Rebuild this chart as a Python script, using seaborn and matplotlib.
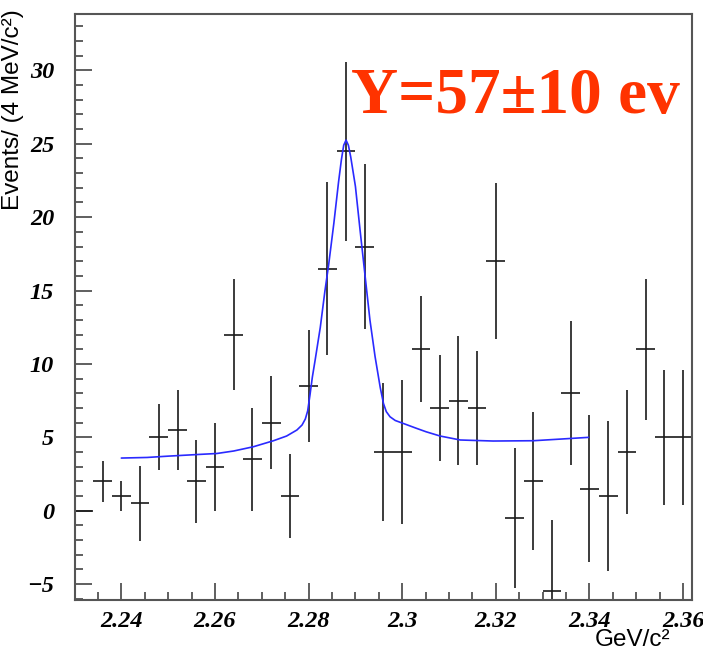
import numpy as np
import pandas as pd
import matplotlib
matplotlib.use("Agg")
import matplotlib.pyplot as plt
from matplotlib.ticker import MultipleLocator, FixedLocator
import seaborn as sns

# ---- data ----
bin_centers = [2.232, 2.236, 2.240, 2.244, 2.248, 2.252, 2.256, 2.260, 2.264, 2.268,
               2.272, 2.276, 2.280, 2.284, 2.288, 2.292, 2.296, 2.300, 2.304, 2.308,
               2.312, 2.316, 2.320, 2.324, 2.328, 2.332, 2.336, 2.340, 2.344, 2.348,
               2.352, 2.356, 2.360]
counts = [0.0, 2.0, 1.0, 0.5, 5.0, 5.5, 2.0, 3.0, 12.0, 3.5,
          6.0, 1.0, 8.5, 16.5, 24.5, 18.0, 4.0, 4.0, 11.0, 7.0,
          7.5, 7.0, 17.0, -0.5, 2.0, -5.5, 8.0, 1.5, 1.0, 4.0,
          11.0, 5.0, 5.0]
errors = [0.0, 1.41, 1.0, 2.55, 2.25, 2.72, 2.85, 3.0, 3.8, 3.5,
          3.15, 2.84, 3.8, 5.9, 6.1, 5.6, 4.7, 4.9, 3.6, 3.6,
          4.4, 3.9, 5.3, 4.75, 4.7, 4.9, 4.9, 5.0, 5.1, 4.25,
          4.8, 4.6, 4.6]
bin_half_width = 0.002

fit_x = [2.2400, 2.2455, 2.2500, 2.2568, 2.2604, 2.2640, 2.2682, 2.2725, 2.2753, 2.2775,
         2.2786, 2.2793, 2.2798, 2.2803, 2.2808, 2.2814, 2.2825, 2.2835, 2.2843, 2.2854,
         2.2864, 2.2870, 2.2875, 2.2880, 2.2885, 2.2890, 2.2900, 2.2910, 2.2921, 2.2931,
         2.2942, 2.2953, 2.2960, 2.2966, 2.2974, 2.2985, 2.3002, 2.3030, 2.3051, 2.3081,
         2.3124, 2.3194, 2.3280, 2.3337, 2.3398]
fit_y = [3.59, 3.63, 3.72, 3.84, 3.90, 4.07, 4.36, 4.77, 5.09, 5.50,
         5.84, 6.25, 6.80, 7.90, 9.10, 10.27, 12.5, 15.0, 16.8, 19.6,
         22.4, 23.9, 24.9, 25.25, 24.9, 24.1, 22.1, 19.1, 15.9, 13.0,
         10.5, 8.4, 7.3, 6.75, 6.40, 6.15, 5.95, 5.62, 5.38, 5.09,
         4.82, 4.75, 4.77, 4.88, 5.0]

x_ticks = [2.24, 2.26, 2.28, 2.30, 2.32, 2.34, 2.36]
x_tick_labels = ["2.24", "2.26", "2.28", "2.3", "2.32", "2.34", "2.36"]
y_ticks = [-5, 0, 5, 10, 15, 20, 25, 30]
y_tick_labels = ["\u22125", "0", "5", "10", "15", "20", "25", "30"]

title_text = "Y=57\u00b110 ev"
y_label = "Events/ (4 MeV/c\u00b2)"
x_label = "GeV/c\u00b2"

# ---- plot ----
sns.set_theme(style="white")
plt.rcParams["font.family"] = ["Liberation Sans", "DejaVu Sans"]

fig = plt.figure(figsize=(7.03, 6.5), dpi=100)
ax = fig.add_axes([75 / 703, 50 / 650, (692 - 75) / 703, (600 - 14) / 650])

df = pd.DataFrame({"m": bin_centers, "n": counts, "e": errors})
ax.errorbar(df["m"], df["n"], yerr=df["e"], xerr=bin_half_width, fmt="none",
            ecolor="#1a1a1a", elinewidth=1.2, capsize=0, zorder=2)

fit_df = pd.DataFrame({"m": fit_x, "y": fit_y})
sns.lineplot(data=fit_df, x="m", y="y", ax=ax, color="#2a2aff", linewidth=1.2,
             sort=False, estimator=None, zorder=3)

ax.set_xlim(2.2301, 2.3619)
ax.set_ylim(-6.08, 33.84)

ax.xaxis.set_major_locator(FixedLocator(x_ticks))
ax.set_xticklabels(x_tick_labels)
ax.xaxis.set_minor_locator(MultipleLocator(0.005))
ax.yaxis.set_major_locator(FixedLocator(y_ticks))
ax.set_yticklabels(y_tick_labels)
ax.yaxis.set_minor_locator(MultipleLocator(1))

ax.tick_params(axis="both", which="major", direction="in", length=12, width=1.2,
               color="#444444", bottom=True, left=True, top=False, right=False)
ax.tick_params(axis="both", which="minor", direction="in", length=6, width=1.2,
               color="#444444", bottom=True, left=True, top=False, right=False)
ax.tick_params(axis="x", which="major", pad=8)
ax.tick_params(axis="y", which="major", pad=15)
for lab in ax.get_xticklabels() + ax.get_yticklabels():
    lab.set_fontfamily("Liberation Serif")
    lab.set_fontweight("bold")
    lab.set_fontstyle("italic")
    lab.set_fontsize(17.5)
    lab.set_color("black")

for sp in ax.spines.values():
    sp.set_color("#555555")
    sp.set_linewidth(1.5)

ax.set_xlabel("")
ax.set_ylabel("")

fig.text(0.018, 1 - 9 / 650, y_label, rotation=90, ha="center", va="top",
         fontsize=17.5, family=["Liberation Sans", "DejaVu Sans"], color="black")
fig.text(670 / 703, 1 - 646 / 650, x_label, ha="right", va="baseline",
         fontsize=17.5, family=["Liberation Sans", "DejaVu Sans"], color="black")

fig.text(680 / 703, 1 - 113 / 650, title_text, ha="right", va="baseline",
         fontsize=47, fontweight="bold", family=["Liberation Serif", "DejaVu Serif"],
         color="#ff3300")

fig.savefig("out.png", dpi=100, facecolor="white")
